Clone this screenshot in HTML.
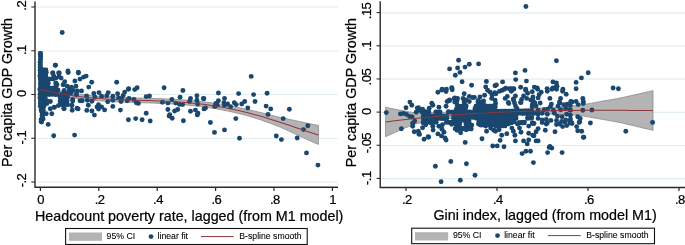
<!DOCTYPE html>
<html><head><meta charset="utf-8"><style>
html,body{margin:0;padding:0;background:#fff;}
body{width:685px;height:245px;overflow:hidden;}
svg{display:block;will-change:transform;}
</style></head><body>
<svg width="685" height="245" viewBox="0 0 685 245">
<rect width="685" height="245" fill="#fff"/>
<line x1="36" x2="338" y1="7.0" y2="7.0" stroke="#e2eef0" stroke-width="1.2"/><line x1="36" x2="338" y1="51.0" y2="51.0" stroke="#e2eef0" stroke-width="1.2"/><line x1="36" x2="338" y1="94.5" y2="94.5" stroke="#e2eef0" stroke-width="1.2"/><line x1="36" x2="338" y1="138.5" y2="138.5" stroke="#e2eef0" stroke-width="1.2"/><line x1="36" x2="338" y1="182.0" y2="182.0" stroke="#e2eef0" stroke-width="1.2"/><line x1="381" x2="685" y1="12.8" y2="12.8" stroke="#e2eef0" stroke-width="1.2"/><line x1="381" x2="685" y1="46.0" y2="46.0" stroke="#e2eef0" stroke-width="1.2"/><line x1="381" x2="685" y1="79.2" y2="79.2" stroke="#e2eef0" stroke-width="1.2"/><line x1="381" x2="685" y1="112.4" y2="112.4" stroke="#e2eef0" stroke-width="1.2"/><line x1="381" x2="685" y1="145.5" y2="145.5" stroke="#e2eef0" stroke-width="1.2"/><line x1="381" x2="685" y1="178.6" y2="178.6" stroke="#e2eef0" stroke-width="1.2"/><polygon points="40.0,86.4 44.7,87.6 49.4,88.7 54.2,89.8 58.9,90.8 63.6,91.7 68.3,92.5 73.0,93.3 77.7,94.0 82.5,94.6 87.2,95.1 91.9,95.6 96.6,96.0 101.3,96.3 106.1,96.7 110.8,96.9 115.5,97.2 120.2,97.4 124.9,97.5 129.7,97.7 134.4,97.9 139.1,98.0 143.8,98.2 148.5,98.3 153.2,98.5 158.0,98.6 162.7,98.8 167.4,99.0 172.1,99.2 176.8,99.5 181.6,99.8 186.3,100.1 191.0,100.5 195.7,101.0 200.4,101.5 205.2,102.0 209.9,102.6 214.6,103.2 219.3,103.9 224.0,104.7 228.7,105.6 233.5,106.5 238.2,107.5 242.9,108.5 247.6,109.5 252.3,110.6 257.1,111.7 261.8,112.8 266.5,114.0 271.2,115.2 275.9,116.4 280.7,117.5 285.4,118.5 290.1,119.5 294.8,120.5 299.5,121.5 304.2,122.6 309.0,123.6 313.7,124.5 318.4,125.4 318.4,144.4 313.7,142.4 309.0,140.3 304.2,138.1 299.5,136.0 294.8,133.8 290.1,131.6 285.4,129.5 280.7,127.3 275.9,125.4 271.2,123.6 266.5,121.9 261.8,120.2 257.1,118.7 252.3,117.2 247.6,115.8 242.9,114.5 238.2,113.4 233.5,112.3 228.7,111.2 224.0,110.3 219.3,109.4 214.6,108.6 209.9,107.8 205.2,107.1 200.4,106.5 195.7,105.9 191.0,105.5 186.3,105.0 181.6,104.6 176.8,104.3 172.1,104.0 167.4,103.7 162.7,103.5 158.0,103.3 153.2,103.1 148.5,102.9 143.8,102.8 139.1,102.6 134.4,102.5 129.7,102.3 124.9,102.1 120.2,102.0 115.5,101.8 110.8,101.5 106.1,101.3 101.3,100.9 96.6,100.6 91.9,100.2 87.2,99.7 82.5,99.2 77.7,98.7 73.0,98.2 68.3,97.6 63.6,96.9 58.9,96.1 54.2,95.3 49.4,94.4 44.7,93.4 40.0,92.4" fill="#b4b4b4" stroke="#8a8a8a" stroke-width="0.8"/><polygon points="385.6,107.3 390.1,108.2 394.7,109.1 399.2,110.0 403.7,110.8 408.3,111.7 412.8,112.5 417.3,112.9 421.9,112.8 426.4,112.7 430.9,112.7 435.5,112.6 440.0,112.6 444.5,112.3 449.1,112.0 453.6,111.8 458.1,111.6 462.6,111.3 467.2,111.1 471.7,110.9 476.2,110.8 480.8,110.6 485.3,110.4 489.8,110.1 494.4,109.9 498.9,109.7 503.4,109.5 508.0,109.4 512.5,109.2 517.0,109.1 521.6,108.9 526.1,108.6 530.6,108.4 535.2,108.2 539.7,108.0 544.2,107.8 548.8,107.6 553.3,107.3 557.8,106.9 562.4,106.6 566.9,106.3 571.4,105.9 576.0,105.6 580.5,105.2 585.0,104.4 589.5,103.5 594.1,102.7 598.6,101.9 603.1,101.0 607.7,100.3 612.2,99.5 616.7,98.7 621.3,97.8 625.8,96.8 630.3,95.8 634.9,94.8 639.4,93.8 643.9,92.7 648.5,91.7 653.0,90.7 653.0,130.3 648.5,129.2 643.9,128.2 639.4,127.1 634.9,126.0 630.3,124.9 625.8,123.9 621.3,122.8 616.7,121.9 612.2,121.1 607.7,120.3 603.1,119.5 598.6,118.7 594.1,117.9 589.5,117.1 585.0,116.3 580.5,115.4 576.0,115.1 571.4,114.9 566.9,114.7 562.4,114.5 557.8,114.3 553.3,114.1 548.8,113.9 544.2,113.9 539.7,113.9 535.2,113.9 530.6,113.9 526.1,113.9 521.6,114.0 517.0,114.1 512.5,114.3 508.0,114.4 503.4,114.6 498.9,114.8 494.4,115.1 489.8,115.3 485.3,115.5 480.8,115.8 476.2,116.1 471.7,116.5 467.2,116.9 462.6,117.3 458.1,117.7 453.6,118.2 449.1,118.6 444.5,119.1 440.0,119.6 435.5,120.3 430.9,121.1 426.4,121.9 421.9,122.7 417.3,123.5 412.8,124.9 408.3,126.7 403.7,128.6 399.2,130.5 394.7,132.5 390.1,134.6 385.6,136.7" fill="#b4b4b4" stroke="#8a8a8a" stroke-width="0.8"/><g fill="#1a476f"><rect x="38.4" y="51.4" width="4.2" height="18.7"/><circle cx="40.4" cy="53.4" r="2.45"/><circle cx="40.6" cy="56.2" r="2.45"/><circle cx="40.5" cy="59.2" r="2.45"/><circle cx="40.1" cy="62.2" r="2.45"/><circle cx="40.1" cy="64.9" r="2.45"/><circle cx="40.2" cy="67.5" r="2.45"/><rect x="38.4" y="67.9" width="9.2" height="4.2"/><circle cx="40.1" cy="70.3" r="2.45"/><circle cx="42.7" cy="69.8" r="2.45"/><circle cx="45.9" cy="70.4" r="2.45"/><rect x="38.4" y="69.9" width="9.4" height="5.7"/><circle cx="40.3" cy="72.7" r="2.45"/><circle cx="43.5" cy="72.4" r="2.45"/><circle cx="46.3" cy="72.6" r="2.45"/><rect x="38.4" y="74.9" width="9.4" height="2.7"/><circle cx="39.9" cy="75.9" r="2.45"/><circle cx="42.9" cy="76.5" r="2.45"/><circle cx="45.7" cy="76.3" r="2.45"/><rect x="51.7" y="74.9" width="3.9" height="2.7"/><circle cx="53.8" cy="76.1" r="2.45"/><rect x="38.4" y="76.9" width="16.6" height="4.2"/><circle cx="40.2" cy="78.7" r="2.45"/><circle cx="43.1" cy="78.8" r="2.45"/><circle cx="46.8" cy="78.9" r="2.45"/><circle cx="49.8" cy="79.1" r="2.45"/><circle cx="53.2" cy="78.8" r="2.45"/><rect x="38.4" y="80.9" width="11.5" height="5.2"/><circle cx="40.4" cy="83.7" r="2.45"/><circle cx="42.6" cy="83.6" r="2.45"/><circle cx="45.5" cy="83.8" r="2.45"/><circle cx="48.3" cy="83.3" r="2.45"/><rect x="53.7" y="80.9" width="3.9" height="5.2"/><circle cx="56.0" cy="83.2" r="2.45"/><rect x="38.4" y="85.9" width="19.2" height="6.2"/><circle cx="40.1" cy="88.4" r="2.45"/><circle cx="39.9" cy="89.8" r="2.45"/><circle cx="43.0" cy="88.3" r="2.45"/><circle cx="43.5" cy="89.9" r="2.45"/><circle cx="46.7" cy="88.1" r="2.45"/><circle cx="46.6" cy="89.9" r="2.45"/><circle cx="49.6" cy="88.2" r="2.45"/><circle cx="49.8" cy="90.2" r="2.45"/><circle cx="52.7" cy="88.3" r="2.45"/><circle cx="52.3" cy="90.0" r="2.45"/><circle cx="55.9" cy="88.6" r="2.45"/><circle cx="56.1" cy="89.6" r="2.45"/><rect x="38.4" y="91.9" width="19.2" height="4.6"/><circle cx="40.1" cy="94.3" r="2.45"/><circle cx="42.9" cy="94.2" r="2.45"/><circle cx="46.2" cy="93.9" r="2.45"/><circle cx="49.2" cy="94.4" r="2.45"/><circle cx="52.4" cy="94.0" r="2.45"/><circle cx="55.7" cy="94.5" r="2.45"/><rect x="38.4" y="95.3" width="8.4" height="4.8"/><circle cx="39.9" cy="97.7" r="2.45"/><circle cx="42.6" cy="98.0" r="2.45"/><circle cx="45.3" cy="98.0" r="2.45"/><rect x="58.4" y="94.9" width="10.8" height="11.7"/><circle cx="60.0" cy="97.1" r="2.45"/><circle cx="60.1" cy="101.1" r="2.45"/><circle cx="60.6" cy="104.0" r="2.45"/><circle cx="63.5" cy="97.0" r="2.45"/><circle cx="63.6" cy="104.3" r="2.45"/><circle cx="67.5" cy="97.0" r="2.45"/><circle cx="67.0" cy="100.7" r="2.45"/><circle cx="67.3" cy="104.4" r="2.45"/><rect x="38.4" y="99.9" width="13.5" height="2.7"/><circle cx="40.6" cy="101.4" r="2.45"/><circle cx="43.5" cy="101.3" r="2.45"/><circle cx="46.9" cy="100.9" r="2.45"/><circle cx="50.4" cy="101.5" r="2.45"/><rect x="38.4" y="101.9" width="10.5" height="3.2"/><circle cx="40.5" cy="103.7" r="2.45"/><circle cx="43.6" cy="103.4" r="2.45"/><circle cx="46.8" cy="103.6" r="2.45"/><rect x="38.9" y="104.9" width="6.9" height="3.2"/><circle cx="40.3" cy="106.2" r="2.45"/><circle cx="43.8" cy="106.2" r="2.45"/><rect x="39.4" y="107.9" width="5.9" height="5.2"/><circle cx="41.1" cy="110.1" r="2.45"/><circle cx="43.1" cy="110.2" r="2.45"/><rect x="40.0" y="112.9" width="4.8" height="5.2"/><circle cx="42.1" cy="115.4" r="2.45"/><rect x="39.4" y="117.9" width="4.4" height="2.7"/><circle cx="41.2" cy="119.5" r="2.45"/><rect x="420.4" y="109.9" width="10.2" height="4.2"/><circle cx="422.1" cy="111.7" r="2.45"/><circle cx="425.6" cy="111.7" r="2.45"/><circle cx="428.8" cy="111.9" r="2.45"/><rect x="434.4" y="109.9" width="7.7" height="4.2"/><circle cx="435.8" cy="112.0" r="2.45"/><circle cx="439.9" cy="111.9" r="2.45"/><rect x="446.9" y="109.9" width="10.7" height="4.2"/><circle cx="448.4" cy="111.7" r="2.45"/><circle cx="452.2" cy="112.3" r="2.45"/><circle cx="455.5" cy="111.8" r="2.45"/><rect x="421.4" y="113.9" width="26.8" height="6.6"/><circle cx="423.3" cy="116.6" r="2.45"/><circle cx="423.3" cy="118.1" r="2.45"/><circle cx="426.5" cy="115.8" r="2.45"/><circle cx="426.4" cy="118.0" r="2.45"/><circle cx="428.7" cy="115.9" r="2.45"/><circle cx="428.8" cy="118.5" r="2.45"/><circle cx="431.6" cy="116.3" r="2.45"/><circle cx="432.0" cy="118.1" r="2.45"/><circle cx="434.8" cy="115.9" r="2.45"/><circle cx="434.4" cy="118.0" r="2.45"/><circle cx="437.8" cy="116.1" r="2.45"/><circle cx="437.6" cy="118.3" r="2.45"/><circle cx="440.6" cy="116.0" r="2.45"/><circle cx="440.8" cy="118.4" r="2.45"/><circle cx="443.3" cy="116.3" r="2.45"/><circle cx="443.5" cy="118.5" r="2.45"/><circle cx="446.6" cy="116.0" r="2.45"/><circle cx="446.8" cy="117.9" r="2.45"/><rect x="452.1" y="113.9" width="5.5" height="6.6"/><circle cx="453.8" cy="116.4" r="2.45"/><circle cx="453.6" cy="118.2" r="2.45"/><circle cx="455.4" cy="116.3" r="2.45"/><circle cx="456.0" cy="118.3" r="2.45"/><rect x="421.4" y="120.3" width="16.6" height="3.8"/><circle cx="423.5" cy="122.1" r="2.45"/><circle cx="426.6" cy="122.3" r="2.45"/><circle cx="429.8" cy="122.2" r="2.45"/><circle cx="433.2" cy="122.6" r="2.45"/><circle cx="436.2" cy="122.3" r="2.45"/><rect x="444.9" y="120.3" width="12.7" height="3.8"/><circle cx="446.3" cy="122.4" r="2.45"/><circle cx="449.9" cy="122.6" r="2.45"/><circle cx="453.0" cy="122.0" r="2.45"/><circle cx="455.7" cy="122.3" r="2.45"/><rect x="462.4" y="99.9" width="4.2" height="4.2"/><circle cx="464.1" cy="102.0" r="2.45"/><rect x="476.4" y="99.9" width="8.8" height="4.2"/><circle cx="477.9" cy="101.7" r="2.45"/><circle cx="480.4" cy="102.2" r="2.45"/><circle cx="483.1" cy="101.8" r="2.45"/><rect x="456.4" y="103.9" width="11.2" height="6.2"/><circle cx="458.1" cy="106.5" r="2.45"/><circle cx="457.9" cy="107.8" r="2.45"/><circle cx="460.8" cy="106.5" r="2.45"/><circle cx="461.0" cy="108.1" r="2.45"/><circle cx="463.1" cy="106.1" r="2.45"/><circle cx="463.2" cy="108.1" r="2.45"/><circle cx="466.2" cy="105.9" r="2.45"/><circle cx="465.5" cy="107.6" r="2.45"/><rect x="474.4" y="103.9" width="21.2" height="6.2"/><circle cx="476.0" cy="106.2" r="2.45"/><circle cx="476.3" cy="107.6" r="2.45"/><circle cx="478.7" cy="106.1" r="2.45"/><circle cx="479.0" cy="107.9" r="2.45"/><circle cx="482.4" cy="106.4" r="2.45"/><circle cx="482.1" cy="107.9" r="2.45"/><circle cx="485.1" cy="105.8" r="2.45"/><circle cx="485.3" cy="108.0" r="2.45"/><circle cx="488.2" cy="106.4" r="2.45"/><circle cx="487.8" cy="107.7" r="2.45"/><circle cx="490.5" cy="106.3" r="2.45"/><circle cx="490.5" cy="107.5" r="2.45"/><circle cx="493.6" cy="105.9" r="2.45"/><circle cx="493.7" cy="107.4" r="2.45"/><rect x="456.4" y="109.9" width="39.2" height="6.5"/><circle cx="457.8" cy="111.9" r="2.45"/><circle cx="457.9" cy="114.0" r="2.45"/><circle cx="460.8" cy="112.5" r="2.45"/><circle cx="461.3" cy="113.8" r="2.45"/><circle cx="463.9" cy="112.1" r="2.45"/><circle cx="464.0" cy="113.8" r="2.45"/><circle cx="467.4" cy="112.6" r="2.45"/><circle cx="467.1" cy="114.1" r="2.45"/><circle cx="469.7" cy="111.9" r="2.45"/><circle cx="469.9" cy="113.9" r="2.45"/><circle cx="473.3" cy="111.9" r="2.45"/><circle cx="472.7" cy="114.5" r="2.45"/><circle cx="476.0" cy="111.9" r="2.45"/><circle cx="476.0" cy="113.7" r="2.45"/><circle cx="479.0" cy="112.6" r="2.45"/><circle cx="479.3" cy="114.3" r="2.45"/><circle cx="481.7" cy="112.1" r="2.45"/><circle cx="481.7" cy="114.3" r="2.45"/><circle cx="484.9" cy="112.4" r="2.45"/><circle cx="484.8" cy="113.9" r="2.45"/><circle cx="488.1" cy="112.6" r="2.45"/><circle cx="488.1" cy="114.3" r="2.45"/><circle cx="491.1" cy="112.4" r="2.45"/><circle cx="490.6" cy="114.1" r="2.45"/><circle cx="493.7" cy="111.8" r="2.45"/><circle cx="493.4" cy="113.9" r="2.45"/><rect x="456.4" y="116.2" width="26.7" height="2.9"/><circle cx="458.0" cy="117.8" r="2.45"/><circle cx="461.5" cy="117.6" r="2.45"/><circle cx="464.3" cy="118.0" r="2.45"/><circle cx="467.2" cy="117.5" r="2.45"/><circle cx="469.5" cy="117.4" r="2.45"/><circle cx="472.4" cy="117.4" r="2.45"/><circle cx="475.6" cy="118.0" r="2.45"/><circle cx="478.7" cy="117.6" r="2.45"/><circle cx="481.4" cy="117.9" r="2.45"/><rect x="490.1" y="116.2" width="5.5" height="2.9"/><circle cx="491.6" cy="117.8" r="2.45"/><circle cx="494.1" cy="117.9" r="2.45"/><rect x="456.4" y="118.9" width="14.5" height="2.6"/><circle cx="458.4" cy="120.2" r="2.45"/><circle cx="460.7" cy="120.4" r="2.45"/><circle cx="463.5" cy="120.4" r="2.45"/><circle cx="466.8" cy="120.1" r="2.45"/><circle cx="469.0" cy="120.6" r="2.45"/><rect x="476.8" y="118.9" width="6.3" height="2.6"/><circle cx="478.8" cy="119.9" r="2.45"/><circle cx="481.0" cy="119.9" r="2.45"/><rect x="490.1" y="118.9" width="2.2" height="2.6"/><circle cx="491.5" cy="120.4" r="2.45"/><rect x="464.4" y="121.3" width="6.5" height="4.8"/><circle cx="465.9" cy="124.0" r="2.45"/><circle cx="469.5" cy="123.8" r="2.45"/><rect x="476.8" y="121.3" width="15.5" height="4.8"/><circle cx="478.5" cy="123.7" r="2.45"/><circle cx="481.3" cy="123.3" r="2.45"/><circle cx="484.9" cy="123.8" r="2.45"/><circle cx="487.5" cy="124.0" r="2.45"/><circle cx="490.4" cy="124.0" r="2.45"/><rect x="456.4" y="121.9" width="5.2" height="4.2"/><circle cx="458.5" cy="123.8" r="2.45"/><circle cx="459.6" cy="123.8" r="2.45"/><rect x="456.4" y="125.9" width="16.5" height="5.2"/><circle cx="458.0" cy="128.6" r="2.45"/><circle cx="461.2" cy="128.4" r="2.45"/><circle cx="464.4" cy="128.8" r="2.45"/><circle cx="467.8" cy="128.5" r="2.45"/><circle cx="471.2" cy="128.8" r="2.45"/><rect x="478.8" y="121.9" width="16.8" height="5.2"/><circle cx="480.5" cy="124.8" r="2.45"/><circle cx="483.9" cy="124.5" r="2.45"/><circle cx="487.2" cy="124.1" r="2.45"/><circle cx="490.5" cy="124.2" r="2.45"/><circle cx="493.4" cy="124.7" r="2.45"/><rect x="494.4" y="97.9" width="2.0" height="11.2"/><circle cx="495.1" cy="100.2" r="2.45"/><circle cx="495.6" cy="103.5" r="2.45"/><circle cx="495.3" cy="106.8" r="2.45"/><rect x="531.2" y="101.9" width="2.4" height="7.2"/><circle cx="532.4" cy="104.4" r="2.45"/><circle cx="532.1" cy="106.8" r="2.45"/><rect x="494.4" y="108.9" width="39.2" height="6.5"/><circle cx="496.0" cy="111.0" r="2.45"/><circle cx="496.4" cy="113.1" r="2.45"/><circle cx="499.2" cy="111.4" r="2.45"/><circle cx="499.5" cy="113.1" r="2.45"/><circle cx="502.2" cy="111.2" r="2.45"/><circle cx="502.1" cy="113.3" r="2.45"/><circle cx="505.1" cy="111.2" r="2.45"/><circle cx="505.1" cy="113.5" r="2.45"/><circle cx="508.2" cy="111.5" r="2.45"/><circle cx="508.4" cy="112.9" r="2.45"/><circle cx="511.1" cy="111.6" r="2.45"/><circle cx="511.3" cy="112.8" r="2.45"/><circle cx="513.7" cy="111.2" r="2.45"/><circle cx="513.7" cy="112.9" r="2.45"/><circle cx="516.6" cy="111.3" r="2.45"/><circle cx="517.2" cy="113.4" r="2.45"/><circle cx="519.7" cy="111.4" r="2.45"/><circle cx="520.1" cy="112.8" r="2.45"/><circle cx="523.2" cy="111.6" r="2.45"/><circle cx="522.7" cy="113.5" r="2.45"/><circle cx="525.8" cy="111.2" r="2.45"/><circle cx="526.3" cy="113.4" r="2.45"/><circle cx="528.6" cy="111.1" r="2.45"/><circle cx="528.8" cy="113.0" r="2.45"/><circle cx="531.6" cy="111.1" r="2.45"/><circle cx="532.0" cy="112.7" r="2.45"/><rect x="494.4" y="115.2" width="12.5" height="5.3"/><circle cx="496.2" cy="117.8" r="2.45"/><circle cx="498.8" cy="117.7" r="2.45"/><circle cx="502.2" cy="117.9" r="2.45"/><circle cx="504.8" cy="118.2" r="2.45"/><rect x="510.7" y="115.2" width="7.4" height="5.3"/><circle cx="512.7" cy="118.2" r="2.45"/><circle cx="516.0" cy="117.7" r="2.45"/><rect x="526.0" y="115.2" width="7.6" height="5.3"/><circle cx="527.4" cy="118.1" r="2.45"/><circle cx="531.6" cy="117.6" r="2.45"/><rect x="505.6" y="120.3" width="7.4" height="4.8"/><circle cx="507.3" cy="123.0" r="2.45"/><circle cx="511.5" cy="122.5" r="2.45"/><rect x="517.9" y="120.3" width="8.4" height="4.8"/><circle cx="519.4" cy="123.0" r="2.45"/><circle cx="522.2" cy="122.9" r="2.45"/><circle cx="524.2" cy="122.3" r="2.45"/><rect x="494.4" y="121.9" width="12.5" height="6.2"/><circle cx="496.4" cy="124.1" r="2.45"/><circle cx="495.9" cy="126.2" r="2.45"/><circle cx="499.3" cy="124.4" r="2.45"/><circle cx="498.8" cy="126.1" r="2.45"/><circle cx="501.8" cy="124.5" r="2.45"/><circle cx="502.1" cy="125.7" r="2.45"/><circle cx="505.1" cy="124.5" r="2.45"/><circle cx="504.9" cy="125.5" r="2.45"/><rect x="479.4" y="112.9" width="19.2" height="12.2"/><circle cx="481.2" cy="115.0" r="2.45"/><circle cx="480.9" cy="117.5" r="2.45"/><circle cx="480.8" cy="120.0" r="2.45"/><circle cx="481.0" cy="122.6" r="2.45"/><circle cx="484.5" cy="115.0" r="2.45"/><circle cx="484.3" cy="122.5" r="2.45"/><circle cx="487.3" cy="114.8" r="2.45"/><circle cx="487.2" cy="122.4" r="2.45"/><circle cx="490.7" cy="115.2" r="2.45"/><circle cx="490.3" cy="122.8" r="2.45"/><circle cx="494.0" cy="114.9" r="2.45"/><circle cx="493.9" cy="122.7" r="2.45"/><circle cx="496.8" cy="115.5" r="2.45"/><circle cx="496.7" cy="117.7" r="2.45"/><circle cx="497.0" cy="120.7" r="2.45"/><circle cx="496.7" cy="123.1" r="2.45"/><rect x="499.4" y="112.9" width="16.2" height="11.2"/><circle cx="501.4" cy="115.3" r="2.45"/><circle cx="501.1" cy="118.4" r="2.45"/><circle cx="500.8" cy="121.5" r="2.45"/><circle cx="504.0" cy="115.4" r="2.45"/><circle cx="504.2" cy="121.5" r="2.45"/><circle cx="507.2" cy="115.5" r="2.45"/><circle cx="507.8" cy="121.9" r="2.45"/><circle cx="510.5" cy="115.0" r="2.45"/><circle cx="510.5" cy="121.8" r="2.45"/><circle cx="513.5" cy="115.2" r="2.45"/><circle cx="513.6" cy="118.9" r="2.45"/><circle cx="514.2" cy="121.8" r="2.45"/><rect x="483.4" y="115.9" width="6.2" height="5.7"/><circle cx="485.0" cy="119.1" r="2.45"/><circle cx="487.6" cy="118.6" r="2.45"/><circle cx="62.2" cy="32.5" r="2.45"/><circle cx="40.4" cy="54.3" r="2.45"/><circle cx="55.4" cy="65.3" r="2.45"/><circle cx="45.7" cy="69.9" r="2.45"/><circle cx="52.8" cy="73.0" r="2.45"/><circle cx="99.0" cy="92.6" r="2.45"/><circle cx="108.2" cy="92.6" r="2.45"/><circle cx="101.6" cy="96.2" r="2.45"/><circle cx="106.7" cy="95.7" r="2.45"/><circle cx="112.8" cy="96.2" r="2.45"/><circle cx="82.2" cy="100.8" r="2.45"/><circle cx="87.3" cy="100.2" r="2.45"/><circle cx="91.9" cy="101.3" r="2.45"/><circle cx="107.7" cy="101.8" r="2.45"/><circle cx="112.8" cy="100.2" r="2.45"/><circle cx="88.3" cy="105.3" r="2.45"/><circle cx="98.5" cy="104.8" r="2.45"/><circle cx="97.0" cy="106.9" r="2.45"/><circle cx="101.6" cy="106.9" r="2.45"/><circle cx="112.8" cy="106.4" r="2.45"/><circle cx="78.1" cy="108.9" r="2.45"/><circle cx="86.8" cy="110.4" r="2.45"/><circle cx="91.9" cy="111.0" r="2.45"/><circle cx="104.6" cy="109.9" r="2.45"/><circle cx="94.4" cy="115.1" r="2.45"/><circle cx="98.5" cy="109.0" r="2.45"/><circle cx="72.7" cy="101.0" r="2.45"/><circle cx="71.7" cy="105.6" r="2.45"/><circle cx="50.3" cy="108.7" r="2.45"/><circle cx="54.4" cy="107.1" r="2.45"/><circle cx="58.4" cy="105.6" r="2.45"/><circle cx="62.5" cy="104.6" r="2.45"/><circle cx="66.6" cy="104.1" r="2.45"/><circle cx="64.1" cy="108.7" r="2.45"/><circle cx="72.2" cy="110.2" r="2.45"/><circle cx="46.2" cy="113.8" r="2.45"/><circle cx="51.8" cy="113.8" r="2.45"/><circle cx="43.1" cy="118.9" r="2.45"/><circle cx="41.1" cy="121.4" r="2.45"/><circle cx="41.6" cy="122.0" r="2.45"/><circle cx="48.2" cy="124.4" r="2.45"/><circle cx="53.7" cy="135.8" r="2.45"/><circle cx="74.6" cy="135.1" r="2.45"/><circle cx="116.7" cy="82.3" r="2.45"/><circle cx="128.7" cy="88.8" r="2.45"/><circle cx="137.1" cy="87.8" r="2.45"/><circle cx="134.7" cy="89.6" r="2.45"/><circle cx="164.1" cy="87.8" r="2.45"/><circle cx="251.2" cy="76.4" r="2.45"/><circle cx="128.4" cy="89.3" r="2.45"/><circle cx="124.7" cy="92.1" r="2.45"/><circle cx="117.6" cy="93.8" r="2.45"/><circle cx="123.2" cy="95.4" r="2.45"/><circle cx="118.6" cy="97.9" r="2.45"/><circle cx="121.6" cy="98.5" r="2.45"/><circle cx="121.0" cy="101.5" r="2.45"/><circle cx="127.2" cy="100.7" r="2.45"/><circle cx="129.0" cy="98.5" r="2.45"/><circle cx="133.9" cy="99.5" r="2.45"/><circle cx="136.3" cy="102.8" r="2.45"/><circle cx="138.4" cy="103.4" r="2.45"/><circle cx="146.2" cy="96.6" r="2.45"/><circle cx="149.5" cy="96.0" r="2.45"/><circle cx="120.4" cy="110.1" r="2.45"/><circle cx="146.2" cy="113.2" r="2.45"/><circle cx="182.9" cy="90.5" r="2.45"/><circle cx="180.1" cy="97.3" r="2.45"/><circle cx="171.9" cy="99.5" r="2.45"/><circle cx="162.4" cy="102.2" r="2.45"/><circle cx="167.9" cy="103.1" r="2.45"/><circle cx="175.8" cy="103.1" r="2.45"/><circle cx="179.5" cy="104.4" r="2.45"/><circle cx="182.6" cy="104.6" r="2.45"/><circle cx="190.5" cy="98.5" r="2.45"/><circle cx="189.6" cy="101.5" r="2.45"/><circle cx="196.9" cy="95.8" r="2.45"/><circle cx="196.9" cy="100.3" r="2.45"/><circle cx="197.6" cy="104.0" r="2.45"/><circle cx="203.4" cy="98.5" r="2.45"/><circle cx="167.9" cy="109.5" r="2.45"/><circle cx="174.6" cy="111.0" r="2.45"/><circle cx="177.7" cy="109.5" r="2.45"/><circle cx="190.5" cy="111.3" r="2.45"/><circle cx="195.4" cy="110.1" r="2.45"/><circle cx="197.9" cy="113.2" r="2.45"/><circle cx="169.7" cy="114.6" r="2.45"/><circle cx="204.0" cy="108.9" r="2.45"/><circle cx="218.4" cy="93.0" r="2.45"/><circle cx="238.6" cy="93.6" r="2.45"/><circle cx="203.9" cy="98.7" r="2.45"/><circle cx="224.5" cy="98.5" r="2.45"/><circle cx="218.4" cy="100.7" r="2.45"/><circle cx="215.9" cy="103.4" r="2.45"/><circle cx="217.2" cy="105.2" r="2.45"/><circle cx="223.9" cy="102.8" r="2.45"/><circle cx="224.5" cy="105.2" r="2.45"/><circle cx="227.6" cy="104.0" r="2.45"/><circle cx="230.6" cy="106.8" r="2.45"/><circle cx="234.3" cy="102.8" r="2.45"/><circle cx="236.2" cy="104.6" r="2.45"/><circle cx="241.7" cy="104.0" r="2.45"/><circle cx="244.7" cy="101.5" r="2.45"/><circle cx="247.8" cy="108.0" r="2.45"/><circle cx="205.5" cy="108.0" r="2.45"/><circle cx="214.7" cy="106.4" r="2.45"/><circle cx="253.6" cy="94.6" r="2.45"/><circle cx="267.1" cy="93.3" r="2.45"/><circle cx="255.0" cy="101.5" r="2.45"/><circle cx="266.1" cy="106.1" r="2.45"/><circle cx="270.7" cy="108.9" r="2.45"/><circle cx="289.4" cy="109.3" r="2.45"/><circle cx="268.0" cy="114.4" r="2.45"/><circle cx="128.4" cy="119.8" r="2.45"/><circle cx="135.7" cy="118.6" r="2.45"/><circle cx="142.1" cy="119.8" r="2.45"/><circle cx="150.2" cy="121.0" r="2.45"/><circle cx="169.1" cy="116.1" r="2.45"/><circle cx="172.2" cy="118.3" r="2.45"/><circle cx="183.4" cy="120.8" r="2.45"/><circle cx="197.3" cy="114.9" r="2.45"/><circle cx="235.8" cy="118.6" r="2.45"/><circle cx="210.4" cy="122.5" r="2.45"/><circle cx="224.5" cy="129.9" r="2.45"/><circle cx="214.5" cy="132.4" r="2.45"/><circle cx="239.5" cy="138.2" r="2.45"/><circle cx="283.2" cy="118.6" r="2.45"/><circle cx="276.3" cy="136.0" r="2.45"/><circle cx="281.4" cy="139.6" r="2.45"/><circle cx="307.8" cy="125.7" r="2.45"/><circle cx="303.5" cy="129.6" r="2.45"/><circle cx="297.2" cy="138.0" r="2.45"/><circle cx="306.5" cy="152.9" r="2.45"/><circle cx="317.9" cy="165.1" r="2.45"/><circle cx="58.6" cy="73.0" r="2.45"/><circle cx="68.2" cy="72.5" r="2.45"/><circle cx="78.4" cy="73.0" r="2.45"/><circle cx="59.1" cy="76.6" r="2.45"/><circle cx="61.1" cy="78.1" r="2.45"/><circle cx="74.9" cy="81.0" r="2.45"/><circle cx="80.0" cy="79.1" r="2.45"/><circle cx="83.6" cy="77.1" r="2.45"/><circle cx="86.1" cy="76.1" r="2.45"/><circle cx="64.7" cy="81.7" r="2.45"/><circle cx="91.7" cy="82.2" r="2.45"/><circle cx="57.0" cy="84.8" r="2.45"/><circle cx="63.1" cy="84.8" r="2.45"/><circle cx="67.2" cy="86.3" r="2.45"/><circle cx="71.3" cy="87.3" r="2.45"/><circle cx="75.9" cy="86.3" r="2.45"/><circle cx="88.7" cy="87.1" r="2.45"/><circle cx="58.0" cy="89.9" r="2.45"/><circle cx="64.2" cy="90.4" r="2.45"/><circle cx="69.3" cy="89.9" r="2.45"/><circle cx="73.3" cy="90.4" r="2.45"/><circle cx="77.4" cy="90.9" r="2.45"/><circle cx="81.5" cy="90.9" r="2.45"/><circle cx="57.5" cy="93.9" r="2.45"/><circle cx="62.1" cy="93.9" r="2.45"/><circle cx="66.2" cy="93.4" r="2.45"/><circle cx="70.8" cy="92.9" r="2.45"/><circle cx="76.4" cy="95.0" r="2.45"/><circle cx="86.6" cy="96.0" r="2.45"/><circle cx="93.8" cy="93.4" r="2.45"/><circle cx="56.0" cy="78.1" r="2.45"/><circle cx="72.6" cy="99.4" r="2.45"/><circle cx="76.3" cy="94.2" r="2.45"/><circle cx="80.0" cy="100.8" r="2.45"/><circle cx="71.9" cy="105.2" r="2.45"/><circle cx="63.8" cy="108.2" r="2.45"/><circle cx="77.0" cy="108.2" r="2.45"/><circle cx="54.2" cy="107.4" r="2.45"/><circle cx="68.9" cy="93.0" r="2.45"/><circle cx="55.4" cy="65.3" r="2.45"/><circle cx="67.9" cy="71.0" r="2.45"/><circle cx="78.3" cy="72.3" r="2.45"/><circle cx="52.8" cy="73.0" r="2.45"/><circle cx="59.3" cy="73.0" r="2.45"/><circle cx="94.9" cy="97.2" r="2.45"/><circle cx="525.9" cy="6.5" r="2.45"/><circle cx="458.6" cy="60.3" r="2.45"/><circle cx="449.6" cy="68.9" r="2.45"/><circle cx="457.6" cy="67.9" r="2.45"/><circle cx="465.0" cy="67.1" r="2.45"/><circle cx="469.3" cy="64.3" r="2.45"/><circle cx="478.6" cy="63.9" r="2.45"/><circle cx="460.0" cy="72.4" r="2.45"/><circle cx="455.3" cy="75.3" r="2.45"/><circle cx="462.1" cy="81.7" r="2.45"/><circle cx="471.6" cy="85.3" r="2.45"/><circle cx="486.4" cy="81.5" r="2.45"/><circle cx="485.7" cy="86.9" r="2.45"/><circle cx="451.9" cy="88.1" r="2.45"/><circle cx="495.0" cy="85.7" r="2.45"/><circle cx="446.4" cy="89.3" r="2.45"/><circle cx="442.1" cy="89.3" r="2.45"/><circle cx="525.0" cy="70.4" r="2.45"/><circle cx="515.4" cy="72.9" r="2.45"/><circle cx="515.7" cy="79.6" r="2.45"/><circle cx="526.4" cy="81.1" r="2.45"/><circle cx="502.6" cy="81.9" r="2.45"/><circle cx="496.4" cy="85.0" r="2.45"/><circle cx="520.7" cy="87.2" r="2.45"/><circle cx="504.3" cy="89.3" r="2.45"/><circle cx="511.4" cy="88.6" r="2.45"/><circle cx="513.6" cy="89.3" r="2.45"/><circle cx="534.3" cy="87.1" r="2.45"/><circle cx="525.7" cy="89.3" r="2.45"/><circle cx="556.4" cy="60.7" r="2.45"/><circle cx="552.9" cy="81.9" r="2.45"/><circle cx="556.4" cy="82.9" r="2.45"/><circle cx="581.4" cy="77.9" r="2.45"/><circle cx="576.1" cy="82.4" r="2.45"/><circle cx="576.1" cy="88.8" r="2.45"/><circle cx="556.4" cy="86.4" r="2.45"/><circle cx="547.1" cy="88.6" r="2.45"/><circle cx="537.1" cy="87.9" r="2.45"/><circle cx="552.9" cy="87.9" r="2.45"/><circle cx="562.9" cy="89.3" r="2.45"/><circle cx="588.2" cy="72.7" r="2.45"/><circle cx="613.1" cy="88.0" r="2.45"/><circle cx="618.4" cy="88.8" r="2.45"/><circle cx="437.9" cy="92.3" r="2.45"/><circle cx="442.0" cy="90.0" r="2.45"/><circle cx="446.1" cy="91.5" r="2.45"/><circle cx="451.7" cy="87.7" r="2.45"/><circle cx="452.2" cy="89.7" r="2.45"/><circle cx="448.1" cy="101.0" r="2.45"/><circle cx="449.6" cy="100.0" r="2.45"/><circle cx="454.7" cy="97.9" r="2.45"/><circle cx="456.8" cy="100.0" r="2.45"/><circle cx="487.6" cy="90.2" r="2.45"/><circle cx="490.2" cy="92.3" r="2.45"/><circle cx="492.2" cy="95.3" r="2.45"/><circle cx="491.7" cy="98.4" r="2.45"/><circle cx="494.8" cy="92.8" r="2.45"/><circle cx="464.2" cy="93.8" r="2.45"/><circle cx="469.3" cy="96.4" r="2.45"/><circle cx="474.4" cy="97.4" r="2.45"/><circle cx="480.0" cy="96.9" r="2.45"/><circle cx="484.6" cy="95.3" r="2.45"/><circle cx="463.1" cy="98.4" r="2.45"/><circle cx="466.2" cy="99.9" r="2.45"/><circle cx="457.5" cy="98.4" r="2.45"/><circle cx="457.0" cy="101.0" r="2.45"/><circle cx="478.4" cy="100.4" r="2.45"/><circle cx="483.6" cy="101.0" r="2.45"/><circle cx="469.3" cy="101.5" r="2.45"/><circle cx="505.7" cy="88.2" r="2.45"/><circle cx="502.2" cy="90.2" r="2.45"/><circle cx="499.6" cy="91.3" r="2.45"/><circle cx="509.3" cy="88.7" r="2.45"/><circle cx="513.9" cy="88.7" r="2.45"/><circle cx="511.3" cy="91.3" r="2.45"/><circle cx="496.0" cy="93.8" r="2.45"/><circle cx="525.6" cy="90.2" r="2.45"/><circle cx="527.7" cy="93.3" r="2.45"/><circle cx="532.3" cy="91.8" r="2.45"/><circle cx="523.6" cy="95.9" r="2.45"/><circle cx="507.3" cy="96.4" r="2.45"/><circle cx="515.4" cy="95.9" r="2.45"/><circle cx="513.4" cy="98.9" r="2.45"/><circle cx="521.6" cy="99.4" r="2.45"/><circle cx="526.7" cy="98.4" r="2.45"/><circle cx="530.7" cy="99.9" r="2.45"/><circle cx="505.2" cy="98.4" r="2.45"/><circle cx="508.3" cy="102.5" r="2.45"/><circle cx="520.5" cy="102.5" r="2.45"/><circle cx="557.0" cy="86.2" r="2.45"/><circle cx="556.5" cy="89.2" r="2.45"/><circle cx="547.3" cy="91.3" r="2.45"/><circle cx="551.9" cy="89.2" r="2.45"/><circle cx="537.6" cy="89.2" r="2.45"/><circle cx="541.2" cy="92.3" r="2.45"/><circle cx="539.1" cy="94.8" r="2.45"/><circle cx="538.1" cy="97.9" r="2.45"/><circle cx="533.0" cy="96.9" r="2.45"/><circle cx="533.0" cy="100.4" r="2.45"/><circle cx="562.6" cy="91.3" r="2.45"/><circle cx="566.2" cy="94.3" r="2.45"/><circle cx="549.9" cy="98.4" r="2.45"/><circle cx="560.6" cy="98.4" r="2.45"/><circle cx="559.6" cy="102.0" r="2.45"/><circle cx="570.8" cy="101.5" r="2.45"/><circle cx="582.8" cy="98.4" r="2.45"/><circle cx="583.3" cy="101.5" r="2.45"/><circle cx="576.1" cy="101.5" r="2.45"/><circle cx="386.3" cy="112.6" r="2.45"/><circle cx="409.9" cy="102.1" r="2.45"/><circle cx="411.8" cy="105.2" r="2.45"/><circle cx="406.0" cy="107.8" r="2.45"/><circle cx="417.2" cy="108.1" r="2.45"/><circle cx="416.2" cy="112.3" r="2.45"/><circle cx="400.4" cy="113.9" r="2.45"/><circle cx="403.5" cy="113.4" r="2.45"/><circle cx="406.5" cy="114.4" r="2.45"/><circle cx="409.6" cy="116.4" r="2.45"/><circle cx="412.1" cy="116.9" r="2.45"/><circle cx="419.3" cy="110.3" r="2.45"/><circle cx="401.4" cy="128.8" r="2.45"/><circle cx="412.7" cy="123.2" r="2.45"/><circle cx="414.7" cy="121.1" r="2.45"/><circle cx="412.7" cy="126.2" r="2.45"/><circle cx="414.2" cy="131.8" r="2.45"/><circle cx="418.3" cy="131.3" r="2.45"/><circle cx="418.8" cy="133.9" r="2.45"/><circle cx="418.5" cy="107.8" r="2.45"/><circle cx="422.6" cy="109.3" r="2.45"/><circle cx="429.2" cy="108.3" r="2.45"/><circle cx="431.8" cy="103.2" r="2.45"/><circle cx="432.8" cy="105.2" r="2.45"/><circle cx="438.9" cy="107.2" r="2.45"/><circle cx="446.1" cy="106.2" r="2.45"/><circle cx="447.1" cy="101.6" r="2.45"/><circle cx="449.6" cy="100.6" r="2.45"/><circle cx="454.2" cy="98.6" r="2.45"/><circle cx="454.7" cy="102.1" r="2.45"/><circle cx="457.3" cy="105.2" r="2.45"/><circle cx="456.3" cy="109.2" r="2.45"/><circle cx="423.1" cy="122.7" r="2.45"/><circle cx="425.7" cy="124.7" r="2.45"/><circle cx="422.6" cy="127.8" r="2.45"/><circle cx="419.5" cy="134.4" r="2.45"/><circle cx="428.2" cy="136.6" r="2.45"/><circle cx="424.1" cy="139.3" r="2.45"/><circle cx="432.8" cy="126.2" r="2.45"/><circle cx="433.1" cy="130.1" r="2.45"/><circle cx="430.8" cy="122.7" r="2.45"/><circle cx="438.9" cy="126.2" r="2.45"/><circle cx="442.5" cy="124.7" r="2.45"/><circle cx="442.0" cy="129.3" r="2.45"/><circle cx="444.0" cy="132.3" r="2.45"/><circle cx="437.9" cy="133.9" r="2.45"/><circle cx="441.5" cy="135.9" r="2.45"/><circle cx="445.0" cy="138.0" r="2.45"/><circle cx="446.1" cy="140.0" r="2.45"/><circle cx="448.6" cy="122.1" r="2.45"/><circle cx="451.7" cy="124.2" r="2.45"/><circle cx="455.2" cy="128.8" r="2.45"/><circle cx="456.3" cy="125.2" r="2.45"/><circle cx="508.8" cy="103.6" r="2.45"/><circle cx="521.0" cy="102.6" r="2.45"/><circle cx="551.4" cy="104.1" r="2.45"/><circle cx="550.4" cy="106.6" r="2.45"/><circle cx="559.6" cy="103.1" r="2.45"/><circle cx="558.0" cy="106.1" r="2.45"/><circle cx="563.6" cy="104.6" r="2.45"/><circle cx="567.2" cy="104.1" r="2.45"/><circle cx="570.3" cy="105.6" r="2.45"/><circle cx="544.2" cy="109.7" r="2.45"/><circle cx="547.3" cy="109.2" r="2.45"/><circle cx="553.4" cy="110.2" r="2.45"/><circle cx="560.6" cy="109.7" r="2.45"/><circle cx="565.7" cy="108.2" r="2.45"/><circle cx="569.8" cy="109.7" r="2.45"/><circle cx="542.2" cy="113.3" r="2.45"/><circle cx="547.3" cy="114.3" r="2.45"/><circle cx="554.4" cy="113.3" r="2.45"/><circle cx="557.5" cy="116.3" r="2.45"/><circle cx="562.1" cy="116.8" r="2.45"/><circle cx="566.7" cy="114.3" r="2.45"/><circle cx="570.3" cy="115.3" r="2.45"/><circle cx="538.1" cy="118.4" r="2.45"/><circle cx="542.2" cy="119.9" r="2.45"/><circle cx="546.3" cy="119.4" r="2.45"/><circle cx="550.9" cy="120.4" r="2.45"/><circle cx="556.5" cy="120.4" r="2.45"/><circle cx="561.6" cy="121.4" r="2.45"/><circle cx="565.7" cy="119.9" r="2.45"/><circle cx="569.8" cy="120.9" r="2.45"/><circle cx="534.0" cy="123.5" r="2.45"/><circle cx="546.3" cy="124.0" r="2.45"/><circle cx="556.5" cy="124.5" r="2.45"/><circle cx="536.1" cy="106.1" r="2.45"/><circle cx="538.1" cy="110.2" r="2.45"/><circle cx="534.6" cy="113.3" r="2.45"/><circle cx="538.1" cy="114.3" r="2.45"/><circle cx="540.2" cy="103.0" r="2.45"/><circle cx="535.0" cy="103.0" r="2.45"/><circle cx="572.0" cy="102.0" r="2.45"/><circle cx="578.2" cy="104.6" r="2.45"/><circle cx="583.3" cy="103.6" r="2.45"/><circle cx="570.5" cy="110.2" r="2.45"/><circle cx="582.8" cy="110.2" r="2.45"/><circle cx="591.9" cy="110.0" r="2.45"/><circle cx="577.7" cy="116.8" r="2.45"/><circle cx="580.2" cy="118.4" r="2.45"/><circle cx="579.7" cy="121.4" r="2.45"/><circle cx="570.5" cy="118.9" r="2.45"/><circle cx="571.5" cy="122.4" r="2.45"/><circle cx="590.4" cy="123.0" r="2.45"/><circle cx="457.0" cy="130.2" r="2.45"/><circle cx="460.6" cy="132.7" r="2.45"/><circle cx="466.2" cy="129.7" r="2.45"/><circle cx="469.3" cy="128.1" r="2.45"/><circle cx="471.8" cy="125.1" r="2.45"/><circle cx="486.6" cy="131.2" r="2.45"/><circle cx="490.7" cy="128.1" r="2.45"/><circle cx="493.8" cy="130.2" r="2.45"/><circle cx="481.5" cy="125.1" r="2.45"/><circle cx="485.6" cy="126.1" r="2.45"/><circle cx="482.0" cy="138.8" r="2.45"/><circle cx="465.2" cy="142.4" r="2.45"/><circle cx="492.7" cy="146.0" r="2.45"/><circle cx="495.5" cy="131.2" r="2.45"/><circle cx="499.1" cy="129.7" r="2.45"/><circle cx="501.7" cy="135.3" r="2.45"/><circle cx="506.8" cy="133.7" r="2.45"/><circle cx="500.1" cy="140.4" r="2.45"/><circle cx="511.9" cy="128.1" r="2.45"/><circle cx="513.4" cy="131.2" r="2.45"/><circle cx="514.9" cy="135.3" r="2.45"/><circle cx="517.5" cy="124.0" r="2.45"/><circle cx="519.5" cy="128.1" r="2.45"/><circle cx="521.0" cy="132.2" r="2.45"/><circle cx="522.1" cy="122.5" r="2.45"/><circle cx="515.4" cy="140.9" r="2.45"/><circle cx="523.6" cy="140.9" r="2.45"/><circle cx="528.7" cy="126.1" r="2.45"/><circle cx="528.7" cy="133.2" r="2.45"/><circle cx="528.7" cy="139.9" r="2.45"/><circle cx="527.2" cy="143.9" r="2.45"/><circle cx="532.8" cy="135.3" r="2.45"/><circle cx="532.3" cy="123.0" r="2.45"/><circle cx="508.3" cy="124.0" r="2.45"/><circle cx="504.2" cy="125.6" r="2.45"/><circle cx="497.6" cy="125.1" r="2.45"/><circle cx="532.5" cy="123.5" r="2.45"/><circle cx="542.2" cy="122.5" r="2.45"/><circle cx="547.3" cy="123.0" r="2.45"/><circle cx="538.1" cy="128.6" r="2.45"/><circle cx="536.1" cy="131.7" r="2.45"/><circle cx="534.0" cy="135.8" r="2.45"/><circle cx="536.1" cy="140.9" r="2.45"/><circle cx="538.1" cy="140.9" r="2.45"/><circle cx="545.3" cy="130.2" r="2.45"/><circle cx="555.0" cy="131.7" r="2.45"/><circle cx="559.6" cy="124.0" r="2.45"/><circle cx="562.6" cy="126.6" r="2.45"/><circle cx="566.7" cy="125.6" r="2.45"/><circle cx="569.8" cy="123.0" r="2.45"/><circle cx="564.7" cy="122.0" r="2.45"/><circle cx="549.9" cy="146.5" r="2.45"/><circle cx="572.0" cy="123.5" r="2.45"/><circle cx="579.2" cy="122.5" r="2.45"/><circle cx="576.6" cy="126.6" r="2.45"/><circle cx="577.7" cy="130.7" r="2.45"/><circle cx="581.7" cy="131.2" r="2.45"/><circle cx="583.8" cy="137.3" r="2.45"/><circle cx="428.6" cy="137.3" r="2.45"/><circle cx="497.2" cy="145.9" r="2.45"/><circle cx="504.0" cy="146.8" r="2.45"/><circle cx="522.1" cy="153.6" r="2.45"/><circle cx="525.9" cy="151.3" r="2.45"/><circle cx="530.5" cy="151.3" r="2.45"/><circle cx="533.4" cy="162.6" r="2.45"/><circle cx="435.4" cy="166.2" r="2.45"/><circle cx="450.8" cy="161.5" r="2.45"/><circle cx="466.4" cy="163.7" r="2.45"/><circle cx="475.0" cy="175.3" r="2.45"/><circle cx="460.3" cy="180.2" r="2.45"/><circle cx="441.1" cy="181.8" r="2.45"/><circle cx="549.2" cy="147.4" r="2.45"/><circle cx="551.9" cy="148.1" r="2.45"/><circle cx="547.6" cy="152.6" r="2.45"/><circle cx="562.1" cy="152.6" r="2.45"/><circle cx="583.4" cy="137.3" r="2.45"/><circle cx="625.8" cy="131.2" r="2.45"/><circle cx="652.6" cy="122.4" r="2.45"/><circle cx="513.5" cy="100.0" r="2.45"/><circle cx="514.5" cy="103.0" r="2.45"/><circle cx="515.5" cy="106.0" r="2.45"/><circle cx="517.0" cy="108.5" r="2.45"/><circle cx="465.5" cy="107.5" r="2.45"/><circle cx="475.0" cy="108.5" r="2.45"/><circle cx="472.5" cy="97.5" r="2.45"/></g><polyline points="40.0,89.4 44.7,90.5 49.4,91.6 54.2,92.5 58.9,93.5 63.6,94.3 68.3,95.1 73.0,95.7 77.7,96.4 82.5,96.9 87.2,97.4 91.9,97.9 96.6,98.3 101.3,98.6 106.1,99.0 110.8,99.2 115.5,99.5 120.2,99.7 124.9,99.8 129.7,100.0 134.4,100.2 139.1,100.3 143.8,100.5 148.5,100.6 153.2,100.8 158.0,100.9 162.7,101.1 167.4,101.4 172.1,101.6 176.8,101.9 181.6,102.2 186.3,102.6 191.0,103.0 195.7,103.5 200.4,104.0 205.2,104.6 209.9,105.2 214.6,105.9 219.3,106.7 224.0,107.5 228.7,108.4 233.5,109.4 238.2,110.4 242.9,111.5 247.6,112.7 252.3,113.9 257.1,115.2 261.8,116.5 266.5,117.9 271.2,119.4 275.9,120.9 280.7,122.4 285.4,124.0 290.1,125.6 294.8,127.2 299.5,128.8 304.2,130.3 309.0,131.9 313.7,133.4 318.4,134.9" fill="none" stroke="#90353b" stroke-width="1.05"/><polyline points="385.6,122.0 390.1,121.4 394.7,120.8 399.2,120.3 403.7,119.7 408.3,119.2 412.8,118.7 417.3,118.2 421.9,117.8 426.4,117.3 430.9,116.9 435.5,116.5 440.0,116.1 444.5,115.7 449.1,115.3 453.6,115.0 458.1,114.6 462.6,114.3 467.2,114.0 471.7,113.7 476.2,113.5 480.8,113.2 485.3,113.0 489.8,112.7 494.4,112.5 498.9,112.3 503.4,112.1 508.0,111.9 512.5,111.7 517.0,111.6 521.6,111.4 526.1,111.3 530.6,111.2 535.2,111.0 539.7,110.9 544.2,110.8 548.8,110.7 553.3,110.7 557.8,110.6 562.4,110.5 566.9,110.5 571.4,110.4 576.0,110.4 580.5,110.3 585.0,110.3 589.5,110.3 594.1,110.3 598.6,110.3 603.1,110.3 607.7,110.3 612.2,110.3 616.7,110.3 621.3,110.3 625.8,110.3 630.3,110.4 634.9,110.4 639.4,110.4 643.9,110.5 648.5,110.5 653.0,110.5" fill="none" stroke="#90353b" stroke-width="1.05"/><path d="M35 1.5V187.3H338" fill="none" stroke="#2a2a2a" stroke-width="1.4"/><line x1="31.3" x2="35" y1="7" y2="7" stroke="#2a2a2a" stroke-width="1.1"/><line x1="31.3" x2="35" y1="50.75" y2="50.75" stroke="#2a2a2a" stroke-width="1.1"/><line x1="31.3" x2="35" y1="94.5" y2="94.5" stroke="#2a2a2a" stroke-width="1.1"/><line x1="31.3" x2="35" y1="138.25" y2="138.25" stroke="#2a2a2a" stroke-width="1.1"/><line x1="31.3" x2="35" y1="182" y2="182" stroke="#2a2a2a" stroke-width="1.1"/><line x1="40.4" x2="40.4" y1="187.3" y2="191" stroke="#2a2a2a" stroke-width="1.2"/><line x1="98.8" x2="98.8" y1="187.3" y2="191" stroke="#2a2a2a" stroke-width="1.2"/><line x1="157.2" x2="157.2" y1="187.3" y2="191" stroke="#2a2a2a" stroke-width="1.2"/><line x1="215.6" x2="215.6" y1="187.3" y2="191" stroke="#2a2a2a" stroke-width="1.2"/><line x1="274.0" x2="274.0" y1="187.3" y2="191" stroke="#2a2a2a" stroke-width="1.2"/><line x1="332.4" x2="332.4" y1="187.3" y2="191" stroke="#2a2a2a" stroke-width="1.2"/><path d="M380.2 1.2V187.5H685" fill="none" stroke="#2a2a2a" stroke-width="1.4"/><line x1="376.6" x2="380.2" y1="12.6" y2="12.6" stroke="#2a2a2a" stroke-width="1.1"/><line x1="376.6" x2="380.2" y1="45.8" y2="45.8" stroke="#2a2a2a" stroke-width="1.1"/><line x1="376.6" x2="380.2" y1="78.95" y2="78.95" stroke="#2a2a2a" stroke-width="1.1"/><line x1="376.6" x2="380.2" y1="112.1" y2="112.1" stroke="#2a2a2a" stroke-width="1.1"/><line x1="376.6" x2="380.2" y1="145.25" y2="145.25" stroke="#2a2a2a" stroke-width="1.1"/><line x1="376.6" x2="380.2" y1="178.4" y2="178.4" stroke="#2a2a2a" stroke-width="1.1"/><line x1="406" x2="406" y1="187.3" y2="191" stroke="#2a2a2a" stroke-width="1.2"/><line x1="497" x2="497" y1="187.3" y2="191" stroke="#2a2a2a" stroke-width="1.2"/><line x1="588" x2="588" y1="187.3" y2="191" stroke="#2a2a2a" stroke-width="1.2"/><line x1="679" x2="679" y1="187.3" y2="191" stroke="#2a2a2a" stroke-width="1.2"/><text transform="translate(26.3 5.80) rotate(-90)" text-anchor="middle" font-family="Liberation Sans, sans-serif" stroke="#000" stroke-width="0.22" font-size="13" letter-spacing="-0.5">.2</text><text transform="translate(26.3 50.20) rotate(-90)" text-anchor="middle" font-family="Liberation Sans, sans-serif" stroke="#000" stroke-width="0.22" font-size="13" letter-spacing="-0.5">.1</text><text transform="translate(26.3 93.75) rotate(-90)" text-anchor="middle" font-family="Liberation Sans, sans-serif" stroke="#000" stroke-width="0.22" font-size="13" letter-spacing="-0.5">0</text><text transform="translate(26.3 137.65) rotate(-90)" text-anchor="middle" font-family="Liberation Sans, sans-serif" stroke="#000" stroke-width="0.22" font-size="13" letter-spacing="-0.5">-.1</text><text transform="translate(26.3 180.50) rotate(-90)" text-anchor="middle" font-family="Liberation Sans, sans-serif" stroke="#000" stroke-width="0.22" font-size="13" letter-spacing="-0.5">-.2</text><text x="40.7" y="203.6" text-anchor="middle" font-family="Liberation Sans, sans-serif" stroke="#000" stroke-width="0.22" font-size="13" letter-spacing="-0.5">0</text><text x="99.6" y="203.6" text-anchor="middle" font-family="Liberation Sans, sans-serif" stroke="#000" stroke-width="0.22" font-size="13" letter-spacing="-0.5">.2</text><text x="158.0" y="203.6" text-anchor="middle" font-family="Liberation Sans, sans-serif" stroke="#000" stroke-width="0.22" font-size="13" letter-spacing="-0.5">.4</text><text x="216.4" y="203.6" text-anchor="middle" font-family="Liberation Sans, sans-serif" stroke="#000" stroke-width="0.22" font-size="13" letter-spacing="-0.5">.6</text><text x="274.8" y="203.6" text-anchor="middle" font-family="Liberation Sans, sans-serif" stroke="#000" stroke-width="0.22" font-size="13" letter-spacing="-0.5">.8</text><text x="332.7" y="203.6" text-anchor="middle" font-family="Liberation Sans, sans-serif" stroke="#000" stroke-width="0.22" font-size="13" letter-spacing="-0.5">1</text><text transform="translate(371.4 10.95) rotate(-90)" text-anchor="middle" font-family="Liberation Sans, sans-serif" stroke="#000" stroke-width="0.22" font-size="13" letter-spacing="-0.5">.15</text><text transform="translate(371.4 45.85) rotate(-90)" text-anchor="middle" font-family="Liberation Sans, sans-serif" stroke="#000" stroke-width="0.22" font-size="13" letter-spacing="-0.5">.1</text><text transform="translate(371.4 77.15) rotate(-90)" text-anchor="middle" font-family="Liberation Sans, sans-serif" stroke="#000" stroke-width="0.22" font-size="13" letter-spacing="-0.5">.05</text><text transform="translate(371.4 111.70) rotate(-90)" text-anchor="middle" font-family="Liberation Sans, sans-serif" stroke="#000" stroke-width="0.22" font-size="13" letter-spacing="-0.5">0</text><text transform="translate(371.4 143.10) rotate(-90)" text-anchor="middle" font-family="Liberation Sans, sans-serif" stroke="#000" stroke-width="0.22" font-size="13" letter-spacing="-0.5">-.05</text><text transform="translate(371.4 178.15) rotate(-90)" text-anchor="middle" font-family="Liberation Sans, sans-serif" stroke="#000" stroke-width="0.22" font-size="13" letter-spacing="-0.5">-.1</text><text x="406.8" y="204.4" text-anchor="middle" font-family="Liberation Sans, sans-serif" stroke="#000" stroke-width="0.22" font-size="13" letter-spacing="-0.5">.2</text><text x="497.8" y="204.4" text-anchor="middle" font-family="Liberation Sans, sans-serif" stroke="#000" stroke-width="0.22" font-size="13" letter-spacing="-0.5">.4</text><text x="588.8" y="204.4" text-anchor="middle" font-family="Liberation Sans, sans-serif" stroke="#000" stroke-width="0.22" font-size="13" letter-spacing="-0.5">.6</text><text x="679.8" y="204.4" text-anchor="middle" font-family="Liberation Sans, sans-serif" stroke="#000" stroke-width="0.22" font-size="13" letter-spacing="-0.5">.8</text><text transform="translate(12.0 92.5) rotate(-90)" text-anchor="middle" font-family="Liberation Sans, sans-serif" stroke="#000" stroke-width="0.22" font-size="14.3">Per capita GDP Growth</text><text transform="translate(356.0 92.6) rotate(-90)" text-anchor="middle" font-family="Liberation Sans, sans-serif" stroke="#000" stroke-width="0.22" font-size="14.3">Per capita GDP Growth</text><text x="35" y="220.9" font-family="Liberation Sans, sans-serif" stroke="#000" stroke-width="0.22" font-size="14.3">Headcount poverty rate, lagged (from M1 model)</text><text x="433.4" y="219.9" font-family="Liberation Sans, sans-serif" stroke="#000" stroke-width="0.22" font-size="14.3">Gini index, lagged (from model M1)</text><rect x="65.6" y="228.5" width="241.6" height="16.0" fill="#fff" stroke="#111" stroke-width="1.1"/><rect x="68.90" y="232.5" width="33.1" height="8.3" fill="#b4b4b4"/><text x="106.60" y="238.9" font-family="Liberation Sans, sans-serif" stroke="#000" stroke-width="0.08" font-size="8.7">95% CI</text><circle cx="151.00" cy="236.6" r="2.4" fill="#1a476f"/><text x="157.60" y="238.9" font-family="Liberation Sans, sans-serif" stroke="#000" stroke-width="0.08" font-size="8.7">linear fit</text><line x1="201.00" x2="233.70" y1="236.6" y2="236.6" stroke="#90353b" stroke-width="1"/><text x="239.30" y="238.9" font-family="Liberation Sans, sans-serif" stroke="#000" stroke-width="0.08" font-size="8.7">B-spline smooth</text><rect x="411.7" y="228.2" width="242.8" height="15.5" fill="#fff" stroke="#111" stroke-width="1.1"/><rect x="415.02" y="232.2" width="33.1" height="8.3" fill="#b4b4b4"/><text x="452.90" y="237.9" font-family="Liberation Sans, sans-serif" stroke="#000" stroke-width="0.08" font-size="8.7">95% CI</text><circle cx="497.52" cy="235.6" r="2.4" fill="#1a476f"/><text x="504.16" y="237.9" font-family="Liberation Sans, sans-serif" stroke="#000" stroke-width="0.08" font-size="8.7">linear fit</text><line x1="547.77" x2="580.63" y1="235.6" y2="235.6" stroke="#90353b" stroke-width="1"/><text x="586.26" y="237.9" font-family="Liberation Sans, sans-serif" stroke="#000" stroke-width="0.08" font-size="8.7">B-spline smooth</text>
</svg>
</body></html>
